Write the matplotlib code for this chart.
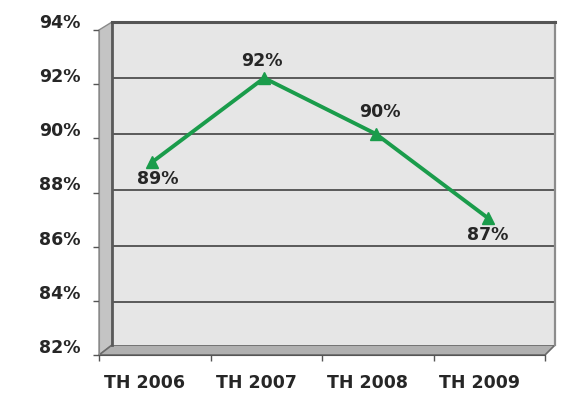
import matplotlib.pyplot as plt
from matplotlib.patches import Polygon
from matplotlib.transforms import ScaledTranslation

years = ["TH 2006", "TH 2007", "TH 2008", "TH 2009"]
rates = [89, 92, 90, 87]
y_ticks = [82, 84, 86, 88, 90, 92, 94]

# label offsets (points) for the value labels
label_offsets = [(4, -12), (-1.5, 12.4), (2.5, 15.9), (0, -12)]

W, H = 574, 393
DPI = 100
TEXT = "#262626"
GREEN = "#1a9c4b"

fig = plt.figure(figsize=(W / DPI, H / DPI), dpi=DPI)
fig.patch.set_facecolor("white")


def box(left, top, right, bottom):
    # pixel box -> figure fraction rect
    return [left / W, 1 - bottom / H, (right - left) / W, (bottom - top) / H]


# pixel canvas for the side wall and the floor
bg = fig.add_axes([0, 0, 1, 1], zorder=0)
bg.set_xlim(0, W)
bg.set_ylim(H, 0)
bg.axis("off")

side = Polygon([(99, 30), (112, 22), (112, 345), (99, 355)], closed=True,
               facecolor="#c4c4c4", edgecolor="#8a8a8a", lw=1.0)
floor = Polygon([(99, 355), (112, 345), (555, 345), (545, 355)], closed=True,
                facecolor="#b0b0b0", edgecolor="#6a6a6a", lw=1.2)
bg.add_patch(side)
bg.add_patch(floor)

# back wall with the data
wall = fig.add_axes(box(112, 22, 555, 345), zorder=1)
wall.set_facecolor("#e6e6e6")
wall.set_yticks(y_ticks)
wall.set_xticks([])
# wall floor sits a little above 82 in the perspective view
wall.set_ylim(94 - 323 / 28, 94)
wall.set_xlim(-0.36, 3.6)
wall.tick_params(left=False, labelleft=False)
wall.grid(axis="y", color="#5a5a5a", lw=1.4)
wall.set_axisbelow(True)
wall.spines["bottom"].set_visible(False)
wall.spines["top"].set_color("#555555")
wall.spines["top"].set_linewidth(2.2)
wall.spines["left"].set_color("#5a5a5a")
wall.spines["left"].set_linewidth(2.0)
wall.spines["right"].set_color("#8c8c8c")
wall.spines["right"].set_linewidth(1.6)

x = list(range(len(years)))
wall.plot(x, rates, color=GREEN, lw=2.8, marker="^", markersize=8,
          markerfacecolor=GREEN, markeredgecolor=GREEN, clip_on=False, zorder=3)
for xi, v, off in zip(x, rates, label_offsets):
    wall.annotate(f"{v}%", (xi, v), xytext=off, textcoords="offset points",
                  ha="center", va="center", fontsize=12.5, fontweight="bold",
                  color=TEXT, zorder=4)

# front axis: ticks and tick labels only
front = fig.add_axes(box(99, 30, 545, 355), zorder=2)
front.patch.set_alpha(0)
front.set_yticks(y_ticks)
front.set_yticklabels([f"{v}%" for v in y_ticks])
front.set_xticks(range(5))
front.set_xticklabels([])
front.set_xticks([i + 0.5 for i in x], minor=True)
front.set_xticklabels(years, minor=True)
front.set_ylim(82, 94)
front.set_xlim(0, 4)
front.tick_params(axis="y", direction="out", length=4.3, width=1.0,
                  color="#555555", pad=9, labelsize=12.5, labelcolor=TEXT)
front.tick_params(axis="x", which="major", direction="out", length=4,
                  width=1.0, color="#555555")
front.tick_params(axis="x", which="minor", length=0, pad=13.5,
                  labelsize=12.5, labelcolor=TEXT)
for lab in front.get_yticklabels():
    lab.set_fontweight("bold")
    lab.set_transform(lab.get_transform()
                      + ScaledTranslation(0, 9 / DPI, fig.dpi_scale_trans))
for lab in front.get_xticklabels(minor=True):
    lab.set_fontweight("bold")
    lab.set_transform(lab.get_transform()
                      + ScaledTranslation(-10 / DPI, 0, fig.dpi_scale_trans))
for s in ["top", "right"]:
    front.spines[s].set_visible(False)
front.spines["left"].set_color("#8a8a8a")
front.spines["bottom"].set_color("#555555")

fig.savefig("out.png", dpi=DPI)
